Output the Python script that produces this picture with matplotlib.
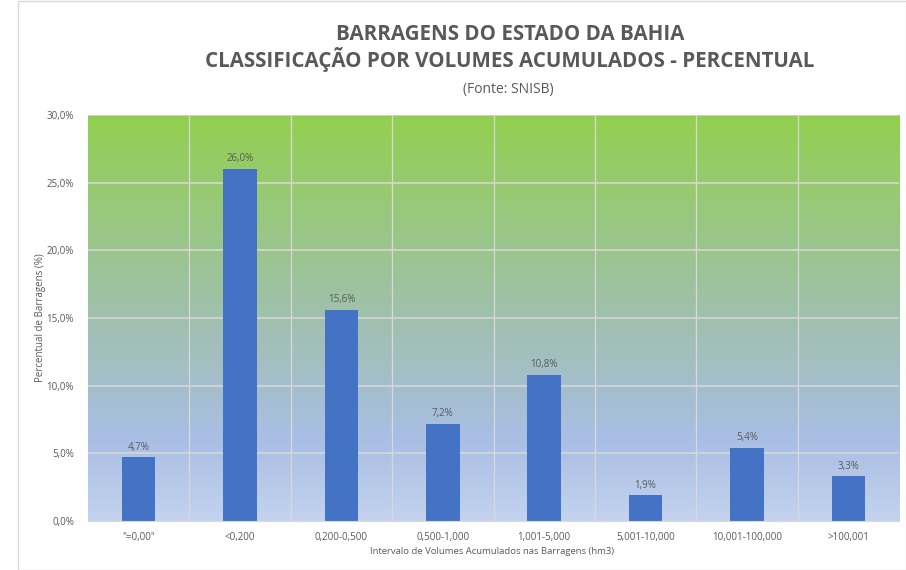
import numpy as np
import matplotlib
matplotlib.use('Agg')
import matplotlib.pyplot as plt
from matplotlib.colors import LinearSegmentedColormap
from matplotlib.ticker import FuncFormatter
from matplotlib.patches import Rectangle

# Faixas de volume acumulado e percentual de barragens em cada faixa
categorias = ['"=0,00"', '<0,200', '0,200-0,500', '0,500-1,000', '1,001-5,000',
              '5,001-10,000', '10,001-100,000', '>100,001']
percentuais = [4.7, 26.0, 15.6, 7.2, 10.8, 1.9, 5.4, 3.3]

plt.rcParams['font.family'] = ['Open Sans', 'DejaVu Sans']
cinza = '#595959'

fig = plt.figure(figsize=(9.06, 5.70), dpi=100)
ax = fig.add_axes([88 / 906, 1 - 521 / 570, (899 - 88) / 906, (521 - 115) / 570])

n = len(categorias)
x = np.arange(n)
ax.set_xlim(-0.5, n - 0.5)
ax.set_ylim(0, 30)

# fundo em degrade: verde no topo, azul claro embaixo
fundo = LinearSegmentedColormap.from_list(
    'fundo', [(0.0, '#C3D3EE'), (0.2, '#A9BEE4'), (0.5, '#A0C0AE'), (1.0, '#92D050')])
grad = np.linspace(0, 1, 256).reshape(-1, 1)
ax.imshow(grad, cmap=fundo, origin='lower', aspect='auto',
          extent=(-0.5, n - 0.5, 0, 30), zorder=0)

for yv in range(5, 31, 5):
    ax.axhline(yv, color='#D9D9D9', lw=1.1, zorder=1)
for xv in np.arange(0.5, n - 0.5, 1):
    ax.axvline(xv, color='#D9D9D9', lw=0.9, zorder=1)

barras = ax.bar(x, percentuais, width=0.33, color='#4472C4', zorder=2)
for b, v in zip(barras, percentuais):
    ax.text(b.get_x() + b.get_width() / 2, v + 0.35, f'{v:.1f}%'.replace('.', ','),
            ha='center', va='bottom', fontsize=7, color=cinza, zorder=3)

ax.set_yticks(range(0, 31, 5))
ax.yaxis.set_major_formatter(FuncFormatter(lambda v, p: f'{v:.1f}%'.replace('.', ',')))
ax.set_xticks(x)
ax.set_xticklabels(categorias)
ax.tick_params(axis='both', length=0, labelsize=7, labelcolor=cinza)
ax.tick_params(axis='x', pad=8)
ax.tick_params(axis='y', pad=10)
for s in ax.spines.values():
    s.set_visible(False)
ax.spines['bottom'].set_visible(True)
ax.spines['bottom'].set_color('#D9D9D9')

fig.text(40 / 906, 1 - 318 / 570, 'Percentual de Barragens (%)', rotation=90,
         ha='center', va='center', fontsize=7, color=cinza)
fig.text(492 / 906, 1 - 551 / 570, 'Intervalo de Volumes Acumulados nas Barragens (hm3)',
         ha='center', va='center', fontsize=6.8, color=cinza)

fig.text(510 / 906, 1 - 34 / 570, 'BARRAGENS DO ESTADO DA BAHIA',
         ha='center', va='center', fontsize=14.8, fontweight='bold', color=cinza)
fig.text(510 / 906, 1 - 60 / 570, 'CLASSIFICAÇÃO POR VOLUMES ACUMULADOS - PERCENTUAL',
         ha='center', va='center', fontsize=14.8, fontweight='bold', color=cinza)
fig.text(508 / 906, 1 - 89 / 570, '(Fonte: SNISB)',
         ha='center', va='center', fontsize=10, color=cinza)

# moldura do grafico
fig.patches.append(Rectangle((18 / 906, 0.0), 1 - 18 / 906, 1 - 1 / 570,
                             transform=fig.transFigure, fill=False,
                             edgecolor='#D9D9D9', lw=1.0))

fig.savefig('out.png', dpi=100)
